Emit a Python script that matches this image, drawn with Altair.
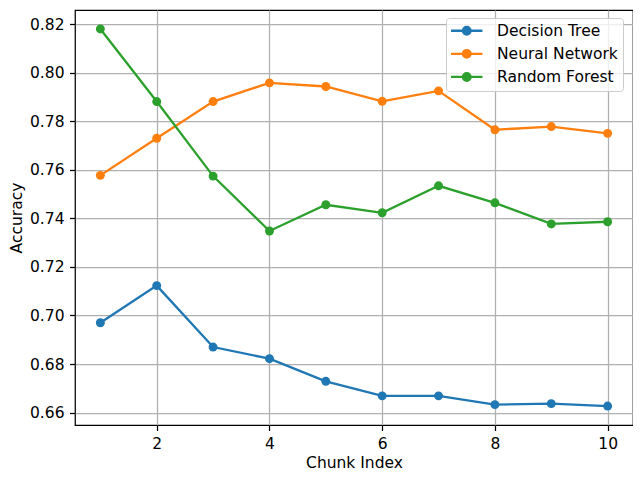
import altair as alt
import pandas as pd

chunks = [1, 2, 3, 4, 5, 6, 7, 8, 9, 10]
series_names = ["Decision Tree", "Neural Network", "Random Forest"]
decision_tree = [0.6970, 0.7123, 0.6870, 0.6822, 0.6729, 0.6669, 0.6669, 0.6633, 0.6637, 0.6627]
neural_network = [0.7577, 0.7730, 0.7881, 0.7958, 0.7943, 0.7882, 0.7925, 0.7765, 0.7778, 0.7750]
random_forest = [0.8180, 0.7881, 0.7574, 0.7348, 0.7456, 0.7423, 0.7534, 0.7464, 0.7377, 0.7386]
colors = ["#1f77b4", "#ff7f0e", "#2ca02c"]
x_ticks = [2, 4, 6, 8, 10]
y_ticks = [0.66, 0.68, 0.70, 0.72, 0.74, 0.76, 0.78, 0.80, 0.82]

rows = []
for name, vals in zip(series_names, [decision_tree, neural_network, random_forest]):
    for c, v in zip(chunks, vals):
        rows.append({"Chunk Index": c, "Accuracy": v, "Model": name})
df = pd.DataFrame(rows)

# legend symbol: short line with a filled dot (concentric strokes fill the dot)
def circ(r):
    return f"M{r},0A{r},{r} 0 1 1 -{r},0A{r},{r} 0 1 1 {r},0"
sym = "M-3.14,0L3.14,0" + circ(0.2) + circ(0.48) + circ(0.76)

font = "DejaVu Sans"
fs = 15.5
x_enc = alt.X("Chunk Index:Q",
              scale=alt.Scale(domain=[0.55, 10.45], nice=False, zero=False),
              axis=alt.Axis(values=x_ticks, title="Chunk Index"))
y_enc = alt.Y("Accuracy:Q",
              scale=alt.Scale(domain=[0.6549, 0.8258], nice=False, zero=False),
              axis=alt.Axis(values=y_ticks, format=".2f", title="Accuracy"))
color_scale = alt.Scale(domain=series_names, range=colors)

lines = alt.Chart(df).mark_line(strokeWidth=2.3).encode(
    x=x_enc, y=y_enc,
    color=alt.Color("Model:N", scale=color_scale,
                    legend=alt.Legend(title=None, orient="none", legendX=371, legendY=8,
                                      symbolType=sym, symbolSize=100, symbolStrokeWidth=2.3,
                                      symbolOffset=8,
                                      labelFontSize=fs, labelFont=font, labelColor="black",
                                      labelOffset=22.5, rowPadding=5.1, padding=5,
                                      fillColor="rgba(255,255,255,0.8)", strokeColor="#cccccc",
                                      cornerRadius=3)),
    detail="Model:N",
)
points = alt.Chart(df).mark_point(filled=True, size=80, opacity=1).encode(
    x=x_enc, y=y_enc,
    color=alt.Color("Model:N", scale=color_scale, legend=None),
)

chart = alt.layer(lines, points).properties(
    width=558, height=415,
    autosize=alt.AutoSizeParams(type="none"),
    padding={"left": 67, "top": 2, "right": 0, "bottom": 48},
).configure_view(
    stroke="black", strokeWidth=1.25
).configure_axis(
    grid=True, gridColor="#b0b0b0", gridWidth=1.25, domain=False,
    tickColor="black", tickSize=5.5, tickWidth=1.25,
    labelFont=font, labelFontSize=fs, labelColor="black", labelPadding=5.5,
    titleFont=font, titleFontSize=fs, titleColor="black", titleFontWeight="normal",
).configure_axisX(labelPadding=6, titlePadding=3.5).configure_axisY(titlePadding=4.5)

chart.save("out.html", embed_options={"renderer": "svg", "actions": False})
